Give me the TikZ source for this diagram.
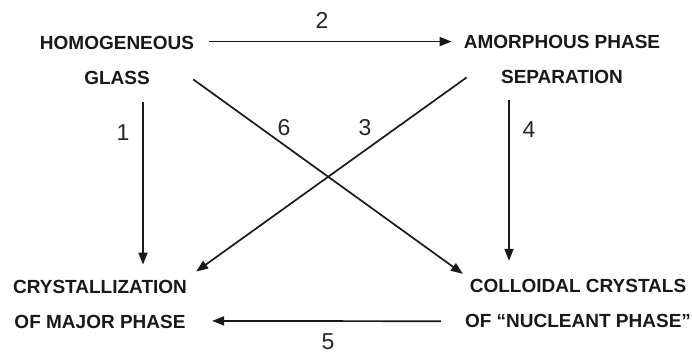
\documentclass[tikz,border=0pt]{standalone}
\usepackage{fontspec}
\setmainfont{Liberation Sans}
\usepackage{tikz}
\usetikzlibrary{arrows.meta, calc}
\tikzset{
  % Diagram styles
  state/.style={inner sep=0pt, align=center, font=\fontsize{19}{35}\selectfont\bfseries, text=black!90},
  num/.style={inner sep=0pt, font=\fontsize{23}{26}\selectfont, text=black!85},
  flow/.style={-{Triangle[length=12pt, width=9pt]}, line width=1.7pt, draw=black!90},
}
\begin{document}
\begin{tikzpicture}[x=1pt, y=-1pt]
    \useasboundingbox (0,0) rectangle (692,355);
    % States
    \node[state] (hg) at (117,60.5) {HOMOGENEOUS\\GLASS};
    \node[state] (aps) at (562,59.5) {AMORPHOUS PHASE\\SEPARATION};
    \node[state] (cmp) at (100,304) {CRYSTALLIZATION\\OF MAJOR PHASE};
    \node[state] (ccn) at (578,303.8) {COLLOIDAL CRYSTALS\\OF ``NUCLEANT PHASE''};
    % Transitions
    \draw[flow] ($(hg.north east)+(15,5.5)$) -- ($(aps.north west)+(-12,6.5)$);
    \draw[flow] ($(hg.south)+(26,17.5)$) -- ($(cmp.north)+(43,-15)$);
    \draw[flow] ($(aps.south)+(-53,16.5)$) -- ($(ccn.north)+(-69,-18.5)$);
    \draw[flow] ($(ccn.south west)+(-24,-7)$) -- ($(cmp.south east)+(25,-7.5)$);
    \draw[flow] ($(hg.south east)+(-1,-5.5)$) -- ($(ccn.north west)+(-2,-5.5)$);
    \draw[flow] ($(aps.south west)+(3,-6.5)$) -- ($(cmp.north east)+(9,-8)$);
    % Step numbers
    \node[num] (n1) at (123,133) {1};
    \node[num] (n2) at (322,20) {2};
    \node[num] (n3) at (365,128) {3};
    \node[num] (n4) at (529,130) {4};
    \node[num] (n5) at (328,342) {5};
    \node[num] (n6) at (284,128) {6};
\end{tikzpicture}
\end{document}
